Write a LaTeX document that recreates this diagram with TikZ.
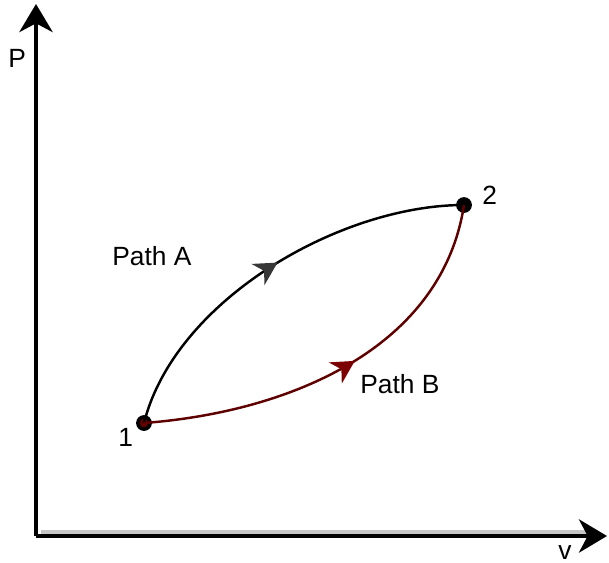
\documentclass[tikz,border=0pt]{standalone}
\usepackage{fontspec}
\setmainfont{Liberation Sans}
\usetikzlibrary{arrows.meta,decorations.markings}
\definecolor{pathred}{RGB}{95,0,0}
\definecolor{tipred}{RGB}{125,0,0}
\definecolor{tipgray}{RGB}{55,55,55}
\tikzset{
  axis/.style={line width=2pt,-{Stealth[length=16pt,width=19pt,inset=5pt]}},
  curve/.style={line width=1.4pt},
  midtip/.style 2 args={postaction={decorate},
    decoration={markings,mark=at position #1 with {\arrow{Stealth[length=13pt,width=14pt,inset=4pt,color=#2]}}}},
  lbl/.style={font=\fontsize{15}{18}\selectfont,inner sep=0pt,anchor=base west},
  dot/.style={circle,fill=black,inner sep=0pt,minimum size=9pt}
}
\begin{document}
\begin{tikzpicture}[x=0.02cm,y=-0.02cm]
  \useasboundingbox (0,0) rectangle (609,562);
  % axes
  \coordinate (o) at (36,536);
  \coordinate (ytop) at (36,4);
  \coordinate (xend) at (607,536);
  \draw[gray!45,line width=2pt] (41,532) -- (590,532);
  \draw[axis] (o) -- (ytop);
  \draw[axis] (o) -- (xend);
  \node[lbl] (plbl) at (8,67) {P};
  \node[lbl] (vlbl) at (558,559) {v};
  % states
  \node[dot] (p1) at (144,423) {};
  \node[dot] (p2) at (464,205) {};
  \fill[pathred] (p1) circle (2.5pt);
  \node[lbl] (n1) at (118,446) {1};
  \node[lbl] (n2) at (482,204) {2};
  % the two paths
  \draw[curve,midtip={0.52}{tipgray}] (p1.center) .. controls (175,300) and (340,205) .. (p2.center);
  \draw[curve,pathred,midtip={0.53}{tipred}] (p1.center) .. controls (290,412) and (442,348) .. (p2.center);
  \node[lbl] (pa) at (112,265) {Path A};
  \node[lbl] (pb) at (360,393) {Path B};
\end{tikzpicture}
\end{document}
